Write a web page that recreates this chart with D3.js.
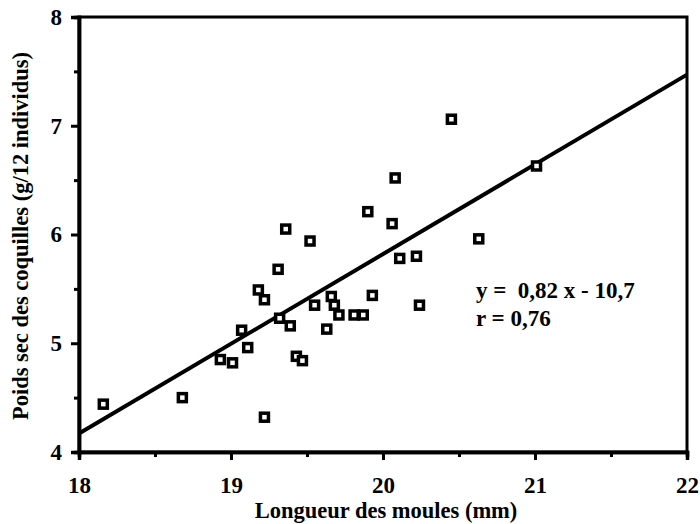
<!DOCTYPE html>
<html>
<head>
<meta charset="utf-8">
<script src="https://cdn.jsdelivr.net/npm/d3@7"></script>
<style>
  body { margin: 0; background: #fff; }
  text { font-family: "Liberation Serif", "DejaVu Serif", serif; font-weight: bold; fill: #000; }
</style>
</head>
<body>
<svg id="chart" width="700" height="524"></svg>
<script>
// longueur des moules (mm) et poids sec des coquilles (g/12 individus)
var longueur = [18.16, 18.68, 18.93, 19.01, 19.07, 19.11, 19.18, 19.22, 19.22, 19.31, 19.32,
    19.36, 19.39, 19.43, 19.47, 19.52, 19.55, 19.63, 19.66, 19.68, 19.71, 19.81, 19.87,
    19.90, 19.93, 20.06, 20.08, 20.11, 20.22, 20.24, 20.45, 20.63, 21.01];
var poids = [4.44, 4.50, 4.85, 4.82, 5.12, 4.96, 5.49, 5.40, 4.32, 5.68, 5.23,
    6.05, 5.16, 4.88, 4.84, 5.94, 5.35, 5.13, 5.43, 5.35, 5.26, 5.26, 5.26,
    6.21, 5.44, 6.10, 6.52, 5.78, 5.80, 5.35, 7.06, 5.96, 6.63];

// droite de regression telle que tracee
var droiteX = [18, 22];
var droiteY = [4.17, 7.47];

var xTicks = [18, 19, 20, 21, 22];
var yTicks = [4, 5, 6, 7, 8];
var xMinor = [18.5, 19.5, 20.5, 21.5];
var yMinor = [4.5, 5.5, 6.5, 7.5];

var equation = ["y =  0,82 x - 10,7", "r = 0,76"];

var svg = d3.select("#chart");

var x = d3.scaleLinear().domain([18, 22]).range([79, 687]);
var y = d3.scaleLinear().domain([4, 8]).range([452, 17]);

// cadre
svg.append("rect")
    .attr("x", x(18)).attr("y", y(8))
    .attr("width", x(22) - x(18)).attr("height", y(4) - y(8))
    .attr("fill", "none").attr("stroke", "#000").attr("stroke-width", 3);

// axes
var xAxis = svg.append("g").attr("transform", "translate(0," + y(4) + ")")
    .call(d3.axisBottom(x).tickValues(xTicks).tickSize(8).tickPadding(17).tickFormat(d3.format("d")));
var xAxisMinor = svg.append("g").attr("transform", "translate(0," + y(4) + ")")
    .call(d3.axisBottom(x).tickValues(xMinor).tickSize(5).tickFormat(""));
var yAxis = svg.append("g").attr("transform", "translate(" + x(18) + ",0)")
    .call(d3.axisLeft(y).tickValues(yTicks).tickSize(8).tickPadding(9).tickFormat(d3.format("d")));
var yAxisMinor = svg.append("g").attr("transform", "translate(" + x(18) + ",0)")
    .call(d3.axisLeft(y).tickValues(yMinor).tickSize(5).tickFormat(""));

[xAxis, xAxisMinor, yAxis, yAxisMinor].forEach(function (g) {
    g.select(".domain").attr("stroke-width", 3.5);
    g.selectAll(".tick line").attr("stroke-width", 3);
    g.selectAll(".tick text").style("font-size", "23px")
        .style("font-family", "Liberation Serif").style("font-weight", "bold");
});

// droite
svg.append("line")
    .attr("x1", x(droiteX[0])).attr("y1", y(droiteY[0]))
    .attr("x2", x(droiteX[1])).attr("y2", y(droiteY[1]))
    .attr("stroke", "#000").attr("stroke-width", 4);

// points
svg.selectAll("rect.pt")
    .data(longueur)
    .enter()
    .append("rect")
    .attr("class", "pt")
    .attr("x", function (d) { return x(d) - 4; })
    .attr("y", function (d, i) { return y(poids[i]) - 4; })
    .attr("width", 8).attr("height", 8)
    .attr("fill", "#fff").attr("stroke", "#000").attr("stroke-width", 3.5);

// equation
svg.selectAll("text.eq")
    .data(equation)
    .enter()
    .append("text")
    .attr("class", "eq")
    .attr("x", 476)
    .attr("y", function (d, i) { return 298 + i * 28; })
    .style("font-size", "23px")
    .style("white-space", "pre")
    .attr("xml:space", "preserve")
    .text(function (d) { return d; });

// titres
svg.append("text")
    .attr("x", 386).attr("y", 518)
    .attr("text-anchor", "middle")
    .style("font-size", "22.5px")
    .text("Longueur des moules (mm)");

svg.append("text")
    .attr("transform", "translate(28,236) rotate(-90)")
    .attr("text-anchor", "middle")
    .style("font-size", "22.5px")
    .text("Poids sec des coquilles (g/12 individus)");
</script>
</body>
</html>
